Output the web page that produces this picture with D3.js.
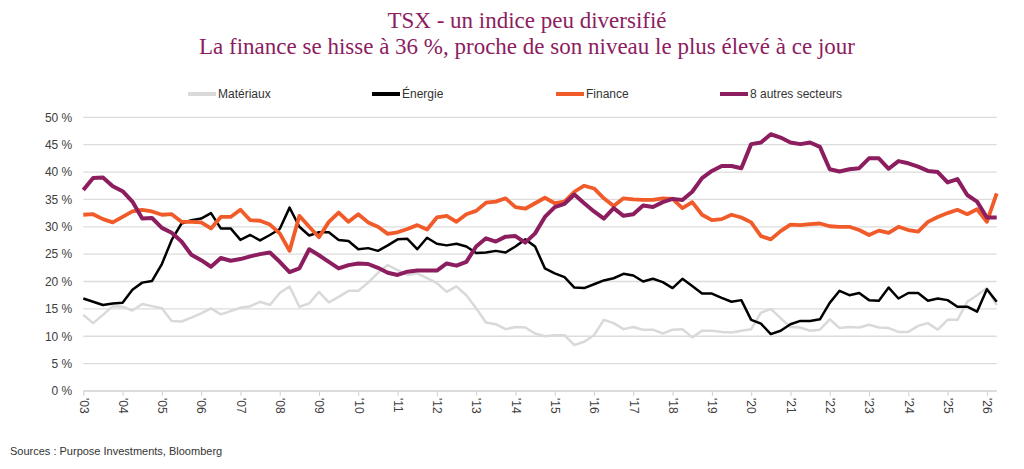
<!DOCTYPE html>
<html lang="fr">
<head>
<meta charset="utf-8">
<script src="https://cdn.jsdelivr.net/npm/d3@7"></script>
<style>
  body { margin: 0; background: #fff; }
  svg { display: block; font-family: "Liberation Sans", Arial, sans-serif; }
  .title { font-family: "Liberation Serif", "Times New Roman", serif; fill: #8c1d5f; font-size: 23px; }
  .tick text { fill: #404040; font-size: 12px; }
</style>
</head>
<body>
<svg id="chart" width="1024" height="469"></svg>
<script>
// Quarterly sector weights in the TSX, 2003 Q1 to 2026 Q2 (%)
const startYear = 2003;
const yearLabels = d3.range(2003, 2027).map(y => "'" + String(y).slice(2));
const yTicks = [0, 5, 10, 15, 20, 25, 30, 35, 40, 45, 50];

const materiaux = [
  13.9, 12.4, 13.9, 15.5, 15.4, 14.7, 15.9, 15.5, 15.1, 12.8, 12.7, 13.4,
  14.2, 15.1, 14.0, 14.6, 15.2, 15.5, 16.3, 15.7, 17.9, 19.1, 15.4, 16.0,
  18.1, 16.2, 17.2, 18.3, 18.3, 19.8, 21.6, 23.0, 22.1, 21.2, 21.5, 20.6,
  19.7, 18.1, 19.1, 17.5, 15.1, 12.5, 12.2, 11.3, 11.7, 11.6, 10.5, 10.0,
  10.2, 10.2, 8.4, 9.0, 10.2, 13.0, 12.4, 11.3, 11.7, 11.2, 11.2, 10.5,
  11.2, 11.3, 9.8, 11.0, 11.0, 10.8, 10.7, 11.0, 11.3, 14.3, 15.0, 13.3,
  11.7, 11.6, 11.0, 11.2, 13.1, 11.5, 11.7, 11.6, 12.1, 11.6, 11.5, 10.8,
  10.8, 11.9, 12.4, 11.2, 13.0, 13.0, 16.3, 17.5, 18.8, 15.7
];
const energie = [
  16.9, 16.3, 15.7, 16.0, 16.1, 18.5, 19.8, 20.1, 23.2, 27.6, 30.6, 31.2,
  31.5, 32.5, 29.7, 29.7, 27.6, 28.5, 27.5, 28.5, 29.6, 33.5, 30.0, 28.4,
  29.0, 29.0, 27.6, 27.4, 25.9, 26.1, 25.6, 26.6, 27.7, 27.8, 25.9, 28.0,
  26.9, 26.6, 26.9, 26.4, 25.2, 25.3, 25.6, 25.3, 26.4, 27.7, 26.4, 22.4,
  21.5, 20.8, 18.9, 18.8, 19.5, 20.2, 20.6, 21.4, 21.1, 20.0, 20.5, 19.9,
  18.8, 20.5, 19.2, 17.8, 17.8, 17.0, 16.3, 16.6, 13.0, 12.3, 10.4, 11.0,
  12.2, 12.8, 12.8, 13.1, 16.1, 18.3, 17.5, 17.9, 16.6, 16.5, 18.9, 16.9,
  17.9, 17.9, 16.5, 16.9, 16.6, 15.4, 15.4, 14.5, 18.6, 16.3
];
const finance = [
  32.2, 32.3, 31.4, 30.8, 31.8, 32.8, 33.1, 32.8, 32.2, 32.3, 30.9, 30.9,
  30.8, 29.7, 31.8, 31.8, 33.1, 31.2, 31.1, 30.4, 28.8, 25.6, 32.0, 30.0,
  28.1, 30.9, 32.6, 30.9, 32.3, 30.8, 30.0, 28.7, 29.0, 29.6, 30.3, 29.5,
  31.7, 32.0, 30.9, 32.3, 32.9, 34.4, 34.6, 35.2, 33.6, 33.3, 34.3, 35.3,
  34.3, 34.6, 36.4, 37.5, 37.0, 35.2, 33.8, 35.2, 35.0, 34.9, 34.9, 35.2,
  35.1, 33.4, 34.5, 32.2, 31.2, 31.4, 32.2, 31.7, 30.8, 28.3, 27.7, 29.2,
  30.4, 30.3, 30.5, 30.6, 30.1, 30.0, 30.0, 29.4, 28.5, 29.3, 28.9, 30.0,
  29.4, 29.1, 30.9, 31.8, 32.5, 33.1, 32.3, 33.2, 30.9, 36.1
];
const autres = [
  36.7, 38.9, 39.0, 37.4, 36.5, 34.6, 31.5, 31.6, 29.8, 28.9, 27.3, 24.9,
  23.9, 22.7, 24.3, 23.8, 24.1, 24.6, 25.0, 25.3, 23.6, 21.7, 22.4, 25.9,
  24.8, 23.6, 22.4, 23.0, 23.3, 23.2, 22.5, 21.6, 21.2, 21.8, 22.0, 22.0,
  22.0, 23.3, 22.9, 23.6, 26.4, 27.9, 27.3, 28.2, 28.3, 27.1, 28.8, 31.8,
  33.6, 34.2, 35.9, 34.3, 32.8, 31.5, 33.4, 32.0, 32.3, 33.9, 33.6, 34.5,
  35.1, 34.9, 36.4, 38.9, 40.2, 41.1, 41.1, 40.7, 45.1, 45.4, 46.9, 46.3,
  45.4, 45.1, 45.4, 44.6, 40.5, 40.1, 40.5, 40.7, 42.5, 42.5, 40.6, 42.0,
  41.6, 41.0, 40.2, 40.0, 38.1, 38.7, 35.8, 34.6, 31.7, 31.7
];

const seriesNames = ["Matériaux", "Énergie", "Finance", "8 autres secteurs"];
const seriesColors = ["#d9d9d9", "#000000", "#f15a29", "#8c1d5f"];
const seriesWidths = [2.5, 2.5, 3.8, 4];
const seriesValues = [materiaux, energie, finance, autres];

const svg = d3.select('#chart');

// Title
svg.append('text').attr('class', 'title')
  .attr('x', 527).attr('y', 28).attr('text-anchor', 'middle')
  .text('TSX - un indice peu diversifié');
svg.append('text').attr('class', 'title')
  .attr('x', 527).attr('y', 54).attr('text-anchor', 'middle')
  .text('La finance se hisse à 36 %, proche de son niveau le plus élevé à ce jour');

// Scales
const x = d3.scaleLinear().domain([2003, 2026.25]).range([83.3, 996.7]);
const y = d3.scaleLinear().domain([0, 50]).range([391, 117.3]);

// Gridlines + y labels
const yAxis = svg.append('g')
  .attr('transform', `translate(${x.range()[0]},0)`)
  .call(d3.axisLeft(y).tickValues(yTicks).tickSize(0).tickPadding(11)
    .tickFormat(d => d + ' %'));
yAxis.select('.domain').remove();
yAxis.selectAll('.tick line').remove();

svg.append('g').selectAll('line')
  .data(yTicks.filter(d => d > 0))
  .enter().append('line')
    .attr('x1', x.range()[0]).attr('x2', x.range()[1])
    .attr('y1', d => y(d)).attr('y2', d => y(d))
    .attr('stroke', '#dcdcdc').attr('stroke-width', 1.3);

// X axis
const xAxis = svg.append('g')
  .attr('transform', `translate(0,${y(0)})`)
  .call(d3.axisBottom(x).tickValues(d3.range(2003, 2027))
    .tickSize(5).tickFormat((d, i) => yearLabels[i]));
xAxis.select('.domain').attr('stroke', '#d0d0d0').attr('stroke-width', 1.3)
  .attr('d', `M${x.range()[0]},0H${x.range()[1]}`);
xAxis.selectAll('.tick line').attr('stroke', '#d0d0d0');
xAxis.selectAll('.tick text')
  .attr('transform', 'rotate(90)')
  .attr('x', 7).attr('y', 0).attr('dy', '0.35em')
  .attr('text-anchor', 'start');

// Lines
const line = d3.line()
  .x((d, i) => x(startYear + i / 4))
  .y(d => y(d));

svg.append('g').selectAll('path')
  .data(seriesValues)
  .enter().append('path')
    .attr('d', line)
    .attr('fill', 'none')
    .attr('stroke', (d, i) => seriesColors[i])
    .attr('stroke-width', (d, i) => seriesWidths[i])
    .attr('stroke-linejoin', 'round');

// Legend
const legendX = [188, 372, 556, 720];
const legend = svg.append('g').selectAll('g')
  .data(seriesNames)
  .enter().append('g')
    .attr('transform', (d, i) => `translate(${legendX[i]},94)`);
legend.append('line')
  .attr('x1', 0).attr('x2', 28)
  .attr('stroke', (d, i) => seriesColors[i])
  .attr('stroke-width', 4);
legend.append('text')
  .attr('x', 30).attr('dy', '0.35em')
  .attr('fill', '#333').attr('font-size', 12)
  .text(d => d);

// Source
svg.append('text')
  .attr('x', 10).attr('y', 455)
  .attr('fill', '#333').attr('font-size', 11)
  .text('Sources : Purpose Investments, Bloomberg');
</script>
</body>
</html>
